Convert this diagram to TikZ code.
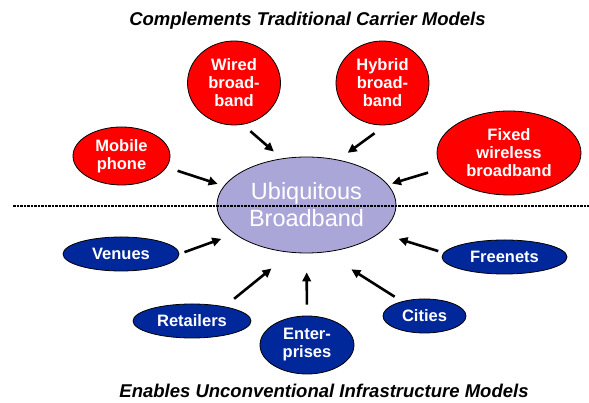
\documentclass[tikz,border=0pt]{standalone}
\usepackage{fontspec}
\setmainfont{Liberation Sans}
\usetikzlibrary{shapes.geometric,arrows.meta}
\definecolor{carrierred}{RGB}{255,0,0}
\definecolor{infrablue}{RGB}{0,40,155}
\definecolor{ubililac}{RGB}{170,166,216}

\begin{document}
\begin{tikzpicture}[x=1pt, y=1pt,
    model/.style={ellipse, draw=black, line width=0.8pt, inner sep=0pt,
        text=white, align=center, font=\bfseries\fontsize{16.5}{18}\selectfont},
    carrier/.style={model, fill=carrierred},
    infra/.style={model, fill=infrablue},
    feed/.style={-{Triangle[length=9pt,width=8.5pt]}, line width=2.6pt},
    divider/.style={line width=1.3pt, dash pattern=on 2.5pt off 1pt},
    heading/.style={anchor=base, font=\bfseries\itshape\fontsize{18.5}{22}\selectfont}]
    \useasboundingbox (0,0) rectangle (589,403);

    \node[heading] (toptitle) at (307.5,377) {Complements Traditional Carrier Models};
    \node[heading] (bottitle) at (324,5) {Enables Unconventional Infrastructure Models};

    % centre
    \node[ellipse, draw=black, line width=0.8pt, fill=ubililac, text=white, inner sep=0pt,
        minimum width=179pt, minimum height=96pt, align=center,
        font=\fontsize{23.5}{27}\selectfont] (ubi) at (306.5,198) {Ubiquitous\\Broadband};

    % carrier models
    \node[carrier, minimum width=93pt, minimum height=84pt] (wired) at (234,320) {Wired\\broad-\\band};
    \node[carrier, minimum width=93pt, minimum height=84pt] (hybrid) at (382.5,320) {Hybrid\\broad-\\band};
    \node[carrier, minimum width=97pt, minimum height=58pt] (mobile) at (121.5,247) {Mobile\\phone};
    \node[carrier, minimum width=144pt, minimum height=84pt] (fixed) at (509,250) {Fixed\\wireless\\broadband};

    % infrastructure models
    \node[infra, minimum width=116pt, minimum height=34pt] (venues) at (121,149) {Venues};
    \node[infra, minimum width=125pt, minimum height=34pt] (freenets) at (504.5,146) {Freenets};
    \node[infra, minimum width=118pt, minimum height=34pt] (retailers) at (192,82) {Retailers};
    \node[infra, minimum width=94pt, minimum height=58pt] (enterprises) at (307,58) {Enter-\\prises};
    \node[infra, minimum width=83pt, minimum height=34pt] (cities) at (424.5,87) {Cities};

    \draw[feed, shorten <=10pt, shorten >=10.5pt] (wired.-78.5) -- (ubi.118);
    \draw[feed, shorten <=13.5pt, shorten >=11.7pt] (hybrid.-86.7) -- (ubi.55.4);
    \draw[feed, shorten <=11.5pt, shorten >=6.6pt] (mobile.-14.5) -- (ubi.167);
    \draw[feed, shorten <=14.2pt, shorten >=4.1pt] (fixed.193.9) -- (ubi.14.6);
    \draw[feed, shorten <=5.4pt, shorten >=14.2pt] (venues.-0.9) -- (ubi.202.2);
    \draw[feed, shorten <=5.5pt, shorten >=19.7pt] (freenets.176.9) -- (ubi.-21);
    \draw[feed, shorten <=12.2pt, shorten >=25.2pt] (retailers.24.6) -- (ubi.252.6);
    \draw[feed, shorten <=11pt, shorten >=19pt] (enterprises.90) -- (ubi.270);
    \draw[feed, shorten <=8.6pt, shorten >=31.6pt] (cities.147.1) -- (ubi.-69.2);

    % divider between the two halves
    \coordinate (divL) at (13,197);
    \coordinate (divR) at (589,197);
    \draw[divider] (divL) -- (divR);
\end{tikzpicture}
\end{document}
